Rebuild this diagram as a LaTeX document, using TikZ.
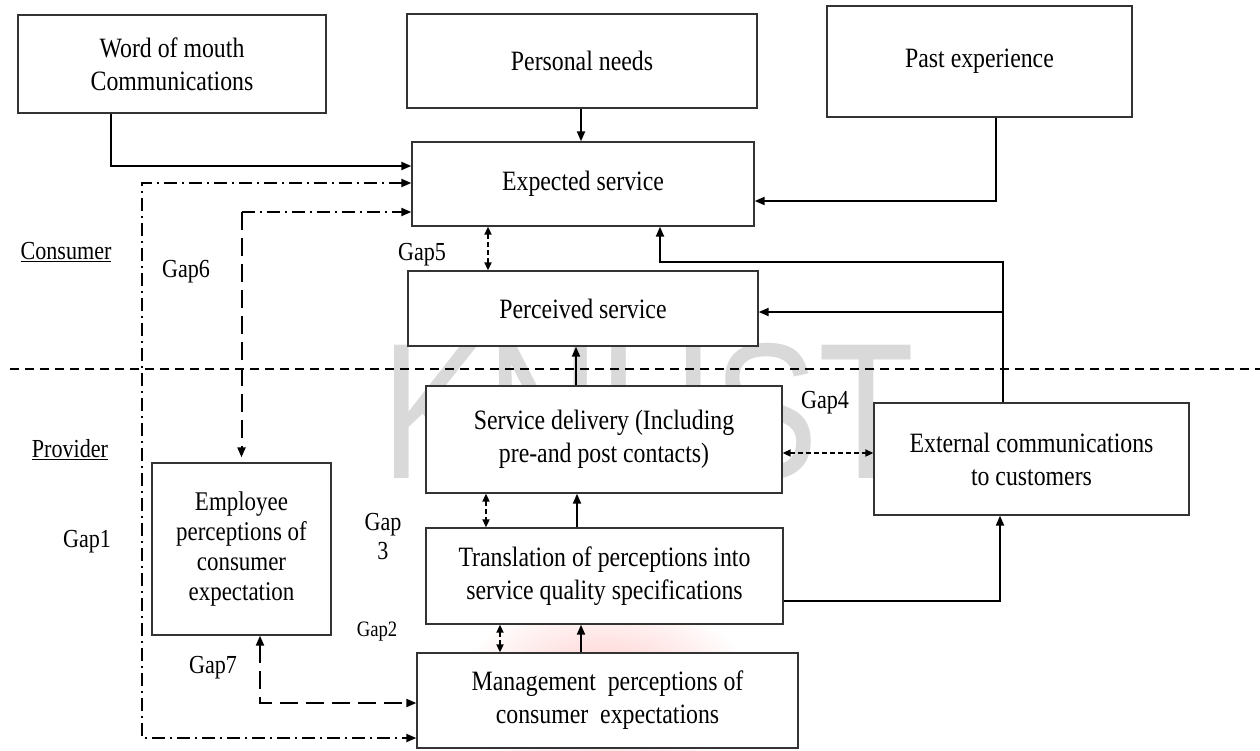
\documentclass[tikz,border=0pt]{standalone}
\usepackage{fontspec}
\setmainfont[FakeStretch=0.85]{Liberation Serif}
\newfontfamily\wmfont{Liberation Sans}
\usetikzlibrary{arrows.meta,calc}

\begin{document}
\begin{tikzpicture}[x=1pt,y=-1pt,
  box/.style={draw=black!80, fill=white, line width=1.3pt, inner sep=0pt,
    align=center, font=\fontsize{28}{33}\selectfont},
  lbl/.style={inner sep=0pt, font=\fontsize{26}{29}\selectfont, align=center},
  tip/.tip={Triangle[length=10pt,width=8pt]},
  stip/.tip={Triangle[length=8pt,width=7pt]},
  conn/.style={line width=2pt, -tip},
  gaparr/.style={line width=1.8pt, stip-stip, dash pattern=on 5pt off 3pt},
  ddot/.style={line width=2pt, dash pattern=on 13pt off 5pt on 2pt off 5pt},
  ldash/.style={line width=2pt, dash pattern=on 18pt off 8pt},
  divider/.style={line width=2.2pt, dash pattern=on 9pt off 6pt}
]
\useasboundingbox (0,0) rectangle (1260,750);

% faint watermark behind everything
\shade[inner color=red!22, outer color=white] (605,690) ellipse (150pt and 95pt);
\node[inner sep=0pt, text=black!15] (wm) at (648,412)
  {\resizebox{533pt}{135pt}{\wmfont KNUST}};

% consumer side
\node[box, minimum width=308pt, minimum height=98pt] (wom) at (172,64)
  {Word of mouth\\Communications};
\node[box, minimum width=350pt, minimum height=94pt] (pn) at (582,61)
  {Personal needs};
\node[box, minimum width=305pt, minimum height=111pt] (pe) at (979.5,61.5)
  {Past experience};
\node[box, minimum width=342pt, minimum height=84pt] (exp) at (583,184)
  {Expected service};
\node[box, minimum width=350pt, minimum height=75pt] (per) at (583,308.5)
  {Perceived service};

% provider side
\node[box, minimum width=356pt, minimum height=107pt] (sd) at (604,439.5)
  {Service delivery (Including\\pre-and post contacts)};
\node[box, minimum width=315pt, minimum height=112pt] (ext) at (1031.5,459)
  {External communications\\to customers};
\node[box, minimum width=357pt, minimum height=96pt] (tr) at (604.5,576)
  {Translation of perceptions into\\service quality specifications};
\node[box, minimum width=381pt, minimum height=95pt] (mg) at (607.5,700.5)
  {Management\ \ perceptions of\\consumer\ \ expectations};
\node[box, minimum width=179pt, minimum height=172pt,
  font=\fontsize{27}{30}\selectfont] (emp) at (241.5,549)
  {Employee\\perceptions of\\consumer\\expectation};

% consumer / provider boundary
\draw[divider] (10,369) -- (1260,369);

% side labels
\node[lbl] (consumer) at (66,252) {\underline{Consumer}};
\node[lbl] (provider) at (70,450) {\underline{Provider}};

% gap labels
\node[lbl] (g1l) at (87,542) {Gap1};
\node[lbl, font=\fontsize{22}{26}\selectfont] (g2l) at (377,632) {Gap2};
\node[lbl] (g3l) at (383,537) {Gap\\3};
\node[lbl] (g4l) at (825,403) {Gap4};
\node[lbl] (g5l) at (422,255) {Gap5};
\node[lbl] (g6l) at (186,272) {Gap6};
\node[lbl] (g7l) at (213,668) {Gap7};

% solid flows
\draw[conn] (wom.south -| 111,0) |- (exp.west |- 0,166);
\draw[conn] (pn.south -| 581,0) -- (exp.north -| 581,0);
\draw[conn] (pe.south -| 996,0) |- (exp.east |- 0,201);
\draw[conn] (ext.north -| 1003,0) |- (660,262) -- (exp.south -| 660,0);
\coordinate (extjoin) at (1003,312);
\draw[conn] (extjoin) -- (per.east |- extjoin);
\draw[conn] (sd.north -| 576,0) -- (per.south -| 576,0);
\draw[conn] (tr.north -| 577,0) -- (sd.south -| 577,0);
\draw[conn] (mg.north -| 581,0) -- (tr.south -| 581,0);
\draw[conn] (tr.east |- 0,601) -| (ext.south -| 1000,0);

% gaps between adjacent boxes
\draw[gaparr] (exp.south -| 488,0) -- (per.north -| 488,0);
\draw[gaparr] (sd.south -| 486,0) -- (tr.north -| 486,0);
\draw[gaparr] (tr.south -| 500,0) -- (mg.north -| 500,0);
\draw[gaparr] (sd.east |- 0,453) -- (ext.west |- 0,453);

% Gap1: expected service vs management perceptions
\draw[ddot, tip-tip] (exp.west |- 0,183) -| (142,738) -- (mg.west |- 0,738);

% Gap6: expected service vs employee perceptions
\coordinate (g6) at (241.5,212);
\draw[ddot, -tip] (g6) -- (exp.west |- g6);
\draw[ldash, -tip, shorten >=5pt] (g6) -- (emp.north);

% Gap7: employee vs management perceptions
\draw[ldash, tip-tip] (emp.south -| 260,0) |- (mg.west |- 0,703);
\end{tikzpicture}
\end{document}
